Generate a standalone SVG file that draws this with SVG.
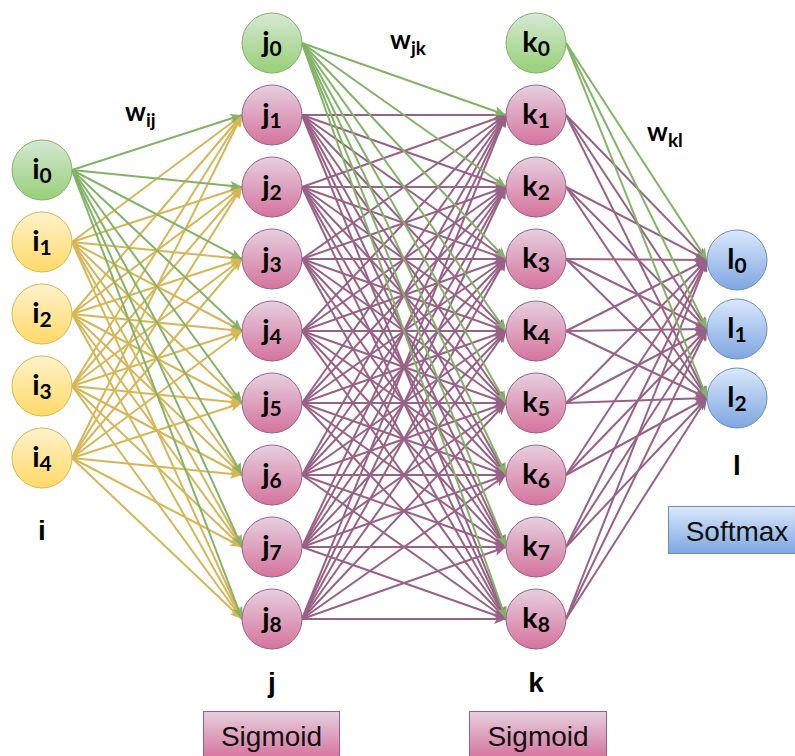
<svg xmlns="http://www.w3.org/2000/svg" width="795" height="756" viewBox="0 0 795 756">
  <style>
    .node text { font-family: Lato, "Open Sans", "Liberation Sans", sans-serif; font-weight: bold; font-size: 29px; fill: #000; text-anchor: middle; }
    .sub { font-size: 21px; }
    .g circle { fill: url(#gG); stroke: #82b366; }
    .y circle { fill: url(#gY); stroke: #d6b656; }
    .p circle { fill: url(#gP); stroke: #996185; }
    .b circle { fill: url(#gB); stroke: #6c8ebf; }
    .ey path { stroke: #d6b656; }
    .eg path { stroke: #82b366; }
    .ep path { stroke: #996185; }
    #edges path { fill: none; stroke-width: 2; }
    .ey path { marker-end: url(#aY); }
    .eg path { marker-end: url(#aG); }
    .ep path { marker-end: url(#aP); }
    .lbl { font-family: "Liberation Sans", Arial, sans-serif; font-weight: bold; font-size: 28px; fill: #000; text-anchor: middle; }
    .w { font-family: Lato, "Open Sans", "Liberation Sans", sans-serif; font-weight: bold; font-size: 26px; fill: #000; }
    .wsub { font-size: 19px; }
    .box text { font-family: "Liberation Sans", Arial, sans-serif; font-size: 28px; fill: #111; text-anchor: middle; }
  </style>
  <defs>
    <linearGradient id="gG" x1="0" y1="0" x2="0" y2="1"><stop offset="0" stop-color="#d5e8d4"/><stop offset="1" stop-color="#97d077"/></linearGradient>
    <linearGradient id="gY" x1="0" y1="0" x2="0" y2="1"><stop offset="0" stop-color="#fff2cc"/><stop offset="1" stop-color="#ffd966"/></linearGradient>
    <linearGradient id="gP" x1="0" y1="0" x2="0" y2="1"><stop offset="0" stop-color="#e6d0de"/><stop offset="1" stop-color="#d5739d"/></linearGradient>
    <linearGradient id="gB" x1="0" y1="0" x2="0" y2="1"><stop offset="0" stop-color="#dae8fc"/><stop offset="1" stop-color="#7ea6e0"/></linearGradient>
    <marker id="aY" viewBox="0 0 12 10" refX="12" refY="5" markerWidth="12" markerHeight="10" markerUnits="userSpaceOnUse" orient="auto"><path d="M0 0L12 5L0 10L3 5Z" fill="#d6b656"/></marker>
    <marker id="aG" viewBox="0 0 12 10" refX="12" refY="5" markerWidth="12" markerHeight="10" markerUnits="userSpaceOnUse" orient="auto"><path d="M0 0L12 5L0 10L3 5Z" fill="#82b366"/></marker>
    <marker id="aP" viewBox="0 0 12 10" refX="12" refY="5" markerWidth="12" markerHeight="10" markerUnits="userSpaceOnUse" orient="auto"><path d="M0 0L12 5L0 10L3 5Z" fill="#996185"/></marker>
  </defs>
  <rect width="795" height="756" fill="#fff"/>

  <g id="edges">
    <!-- input layer i1..i4 to hidden layer j1..j8 -->
    <g class="ey">
      <path d="M72 242L242 115"/><path d="M72 242L242 187"/><path d="M72 242L242 259"/><path d="M72 242L242 331"/><path d="M72 242L242 403"/><path d="M72 242L242 475"/><path d="M72 242L242 547"/><path d="M72 242L242 619"/>
      <path d="M72 314L242 115"/><path d="M72 314L242 187"/><path d="M72 314L242 259"/><path d="M72 314L242 331"/><path d="M72 314L242 403"/><path d="M72 314L242 475"/><path d="M72 314L242 547"/><path d="M72 314L242 619"/>
      <path d="M72 386L242 115"/><path d="M72 386L242 187"/><path d="M72 386L242 259"/><path d="M72 386L242 331"/><path d="M72 386L242 403"/><path d="M72 386L242 475"/><path d="M72 386L242 547"/><path d="M72 386L242 619"/>
      <path d="M72 458L242 115"/><path d="M72 458L242 187"/><path d="M72 458L242 259"/><path d="M72 458L242 331"/><path d="M72 458L242 403"/><path d="M72 458L242 475"/><path d="M72 458L242 547"/><path d="M72 458L242 619"/>
    </g>
    <!-- bias i0 -->
    <g class="eg">
      <path d="M72 170L242 115"/><path d="M72 170L242 187"/><path d="M72 170L242 259"/><path d="M72 170L242 331"/><path d="M72 170L242 403"/><path d="M72 170L242 475"/><path d="M72 170L242 547"/><path d="M72 170L242 619"/>
    </g>
    <!-- hidden j1..j8 to hidden k1..k8 -->
    <g class="ep">
      <path d="M302 115L506 115"/><path d="M302 115L506 187"/><path d="M302 115L506 259"/><path d="M302 115L506 331"/><path d="M302 115L506 403"/><path d="M302 115L506 475"/><path d="M302 115L506 547"/><path d="M302 115L506 619"/>
      <path d="M302 187L506 115"/><path d="M302 187L506 187"/><path d="M302 187L506 259"/><path d="M302 187L506 331"/><path d="M302 187L506 403"/><path d="M302 187L506 475"/><path d="M302 187L506 547"/><path d="M302 187L506 619"/>
      <path d="M302 259L506 115"/><path d="M302 259L506 187"/><path d="M302 259L506 259"/><path d="M302 259L506 331"/><path d="M302 259L506 403"/><path d="M302 259L506 475"/><path d="M302 259L506 547"/><path d="M302 259L506 619"/>
      <path d="M302 331L506 115"/><path d="M302 331L506 187"/><path d="M302 331L506 259"/><path d="M302 331L506 331"/><path d="M302 331L506 403"/><path d="M302 331L506 475"/><path d="M302 331L506 547"/><path d="M302 331L506 619"/>
      <path d="M302 403L506 115"/><path d="M302 403L506 187"/><path d="M302 403L506 259"/><path d="M302 403L506 331"/><path d="M302 403L506 403"/><path d="M302 403L506 475"/><path d="M302 403L506 547"/><path d="M302 403L506 619"/>
      <path d="M302 475L506 115"/><path d="M302 475L506 187"/><path d="M302 475L506 259"/><path d="M302 475L506 331"/><path d="M302 475L506 403"/><path d="M302 475L506 475"/><path d="M302 475L506 547"/><path d="M302 475L506 619"/>
      <path d="M302 547L506 115"/><path d="M302 547L506 187"/><path d="M302 547L506 259"/><path d="M302 547L506 331"/><path d="M302 547L506 403"/><path d="M302 547L506 475"/><path d="M302 547L506 547"/><path d="M302 547L506 619"/>
      <path d="M302 619L506 115"/><path d="M302 619L506 187"/><path d="M302 619L506 259"/><path d="M302 619L506 331"/><path d="M302 619L506 403"/><path d="M302 619L506 475"/><path d="M302 619L506 547"/><path d="M302 619L506 619"/>
    </g>
    <!-- bias j0 -->
    <g class="eg">
      <path d="M302 43L506 115"/><path d="M302 43L506 187"/><path d="M302 43L506 259"/><path d="M302 43L506 331"/><path d="M302 43L506 403"/><path d="M302 43L506 475"/><path d="M302 43L506 547"/><path d="M302 43L506 619"/>
    </g>
    <!-- hidden k1..k8 to output l0..l2 -->
    <g class="ep">
      <path d="M566 115L707 260"/><path d="M566 115L707 329"/><path d="M566 115L707 398"/>
      <path d="M566 187L707 260"/><path d="M566 187L707 329"/><path d="M566 187L707 398"/>
      <path d="M566 259L707 260"/><path d="M566 259L707 329"/><path d="M566 259L707 398"/>
      <path d="M566 331L707 260"/><path d="M566 331L707 329"/><path d="M566 331L707 398"/>
      <path d="M566 403L707 260"/><path d="M566 403L707 329"/><path d="M566 403L707 398"/>
      <path d="M566 475L707 260"/><path d="M566 475L707 329"/><path d="M566 475L707 398"/>
      <path d="M566 547L707 260"/><path d="M566 547L707 329"/><path d="M566 547L707 398"/>
      <path d="M566 619L707 260"/><path d="M566 619L707 329"/><path d="M566 619L707 398"/>
    </g>
    <!-- bias k0 -->
    <g class="eg">
      <path d="M566 43L707 260"/><path d="M566 43L707 329"/><path d="M566 43L707 398"/>
    </g>
  </g>

  <!-- input layer -->
  <g id="i0" class="node g"><circle cx="42" cy="170" r="30"/><text x="42" y="179">i<tspan class="sub" dy="4">0</tspan></text></g>
  <g id="i1" class="node y"><circle cx="42" cy="242" r="30"/><text x="42" y="251">i<tspan class="sub" dy="4">1</tspan></text></g>
  <g id="i2" class="node y"><circle cx="42" cy="314" r="30"/><text x="42" y="323">i<tspan class="sub" dy="4">2</tspan></text></g>
  <g id="i3" class="node y"><circle cx="42" cy="386" r="30"/><text x="42" y="395">i<tspan class="sub" dy="4">3</tspan></text></g>
  <g id="i4" class="node y"><circle cx="42" cy="458" r="30"/><text x="42" y="467">i<tspan class="sub" dy="4">4</tspan></text></g>

  <!-- hidden layer j -->
  <g id="j0" class="node g"><circle cx="272" cy="43" r="30"/><text x="272" y="52">j<tspan class="sub" dy="4">0</tspan></text></g>
  <g id="j1" class="node p"><circle cx="272" cy="115" r="30"/><text x="272" y="124">j<tspan class="sub" dy="4">1</tspan></text></g>
  <g id="j2" class="node p"><circle cx="272" cy="187" r="30"/><text x="272" y="196">j<tspan class="sub" dy="4">2</tspan></text></g>
  <g id="j3" class="node p"><circle cx="272" cy="259" r="30"/><text x="272" y="268">j<tspan class="sub" dy="4">3</tspan></text></g>
  <g id="j4" class="node p"><circle cx="272" cy="331" r="30"/><text x="272" y="340">j<tspan class="sub" dy="4">4</tspan></text></g>
  <g id="j5" class="node p"><circle cx="272" cy="403" r="30"/><text x="272" y="412">j<tspan class="sub" dy="4">5</tspan></text></g>
  <g id="j6" class="node p"><circle cx="272" cy="475" r="30"/><text x="272" y="484">j<tspan class="sub" dy="4">6</tspan></text></g>
  <g id="j7" class="node p"><circle cx="272" cy="547" r="30"/><text x="272" y="556">j<tspan class="sub" dy="4">7</tspan></text></g>
  <g id="j8" class="node p"><circle cx="272" cy="619" r="30"/><text x="272" y="628">j<tspan class="sub" dy="4">8</tspan></text></g>

  <!-- hidden layer k -->
  <g id="k0" class="node g"><circle cx="536" cy="43" r="30"/><text x="536" y="52">k<tspan class="sub" dy="4">0</tspan></text></g>
  <g id="k1" class="node p"><circle cx="536" cy="115" r="30"/><text x="536" y="124">k<tspan class="sub" dy="4">1</tspan></text></g>
  <g id="k2" class="node p"><circle cx="536" cy="187" r="30"/><text x="536" y="196">k<tspan class="sub" dy="4">2</tspan></text></g>
  <g id="k3" class="node p"><circle cx="536" cy="259" r="30"/><text x="536" y="268">k<tspan class="sub" dy="4">3</tspan></text></g>
  <g id="k4" class="node p"><circle cx="536" cy="331" r="30"/><text x="536" y="340">k<tspan class="sub" dy="4">4</tspan></text></g>
  <g id="k5" class="node p"><circle cx="536" cy="403" r="30"/><text x="536" y="412">k<tspan class="sub" dy="4">5</tspan></text></g>
  <g id="k6" class="node p"><circle cx="536" cy="475" r="30"/><text x="536" y="484">k<tspan class="sub" dy="4">6</tspan></text></g>
  <g id="k7" class="node p"><circle cx="536" cy="547" r="30"/><text x="536" y="556">k<tspan class="sub" dy="4">7</tspan></text></g>
  <g id="k8" class="node p"><circle cx="536" cy="619" r="30"/><text x="536" y="628">k<tspan class="sub" dy="4">8</tspan></text></g>

  <!-- output layer -->
  <g id="l0" class="node b"><circle cx="737" cy="260" r="30"/><text x="737" y="269">l<tspan class="sub" dy="4">0</tspan></text></g>
  <g id="l1" class="node b"><circle cx="737" cy="329" r="30"/><text x="737" y="338">l<tspan class="sub" dy="4">1</tspan></text></g>
  <g id="l2" class="node b"><circle cx="737" cy="398" r="30"/><text x="737" y="407">l<tspan class="sub" dy="4">2</tspan></text></g>

  <!-- weight labels -->
  <g id="w-ij"><text class="w" x="125" y="121">w<tspan class="wsub" dy="6">ij</tspan></text></g>
  <g id="w-jk"><text class="w" x="390" y="49">w<tspan class="wsub" dy="6">jk</tspan></text></g>
  <g id="w-kl"><text class="w" x="647" y="141">w<tspan class="wsub" dy="6">kl</tspan></text></g>

  <!-- layer names -->
  <g id="layer-labels">
    <text class="lbl" x="42" y="540">i</text>
    <text class="lbl" x="272" y="692">j</text>
    <text class="lbl" x="536" y="692">k</text>
    <text class="lbl" x="737" y="475">l</text>
  </g>

  <!-- activation boxes -->
  <g id="sigmoid-j" class="box"><rect x="203.5" y="711.5" width="136" height="47" fill="url(#gP)" stroke="#996185"/><text x="271.5" y="746">Sigmoid</text></g>
  <g id="sigmoid-k" class="box"><rect x="469.5" y="711.5" width="137" height="47" fill="url(#gP)" stroke="#996185"/><text x="538" y="746">Sigmoid</text></g>
  <g id="softmax" class="box"><rect x="668.5" y="506.5" width="140" height="47" fill="url(#gB)" stroke="#6c8ebf"/><text x="737" y="541">Softmax</text></g>
</svg>
